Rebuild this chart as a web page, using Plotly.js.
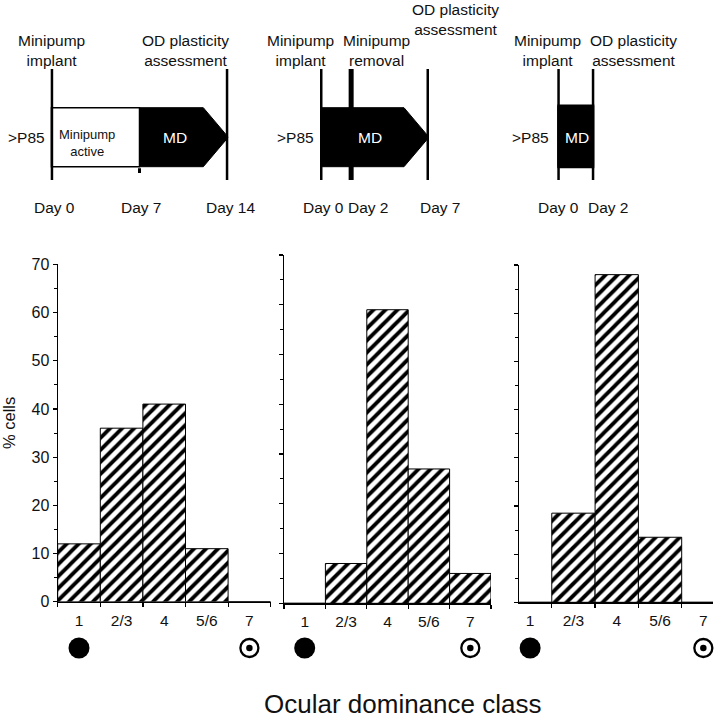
<!DOCTYPE html>
<html>
<head>
<meta charset="utf-8">
<script src="https://cdn.plot.ly/plotly-3.0.1.min.js"></script>
<style>html,body{margin:0;padding:0;background:#fff;}#chart{width:714px;height:720px;}</style>
</head>
<body>
<div id="chart"></div>
<script>
// ---------------- DATA ----------------
const categories = ['1', '2/3', '4', '5/6', '7'];
const binIndex = [1, 2, 3, 4, 5];
const cellsPanelA = [12, 36, 41, 11, 0];     // 14-day minipump then MD
const cellsPanelB = [0, 8, 59, 27, 6];       // minipump removed day 2, MD to day 7
const cellsPanelC = [0, 18.5, 68, 13.5, 0];  // 2-day minipump + MD
const yTickVals = [0, 10, 20, 30, 40, 50, 60, 70];
const eyeBins = [1, 5];                       // contralateral (1) / ipsilateral (7)

const timelineA = [0, 7, 14];
const timelineB = [0, 2, 7];
const timelineC = [0, 2];
const dayLabelsA = ['Day 0', 'Day 7', 'Day 14'];
const dayLabelsB = ['Day 0', 'Day 2', 'Day 7'];
const dayLabelsC = ['Day 0', 'Day 2'];

// ---------------- STYLE ----------------
const FONT = 'Liberation Sans, Arial, Helvetica, sans-serif';
const INK = '#111';
const W = 714, H = 720;
const px = v => v / W;
const py = v => 1 - v / H;

const hatch = {shape: '/', fgcolor: '#000', bgcolor: '#fff', size: 8.5, solidity: 0.45};

function barTrace(y, xa, ya) {
  return {type: 'bar', x: binIndex, y: y, xaxis: xa, yaxis: ya, width: 1,
    marker: {color: '#fff', pattern: hatch, line: {color: '#000', width: 1}},
    hoverinfo: 'skip', showlegend: false};
}
function eyeTraces(xa) {
  return [
    {type: 'scatter', mode: 'markers', x: [eyeBins[0]], y: [0], xaxis: xa, yaxis: 'y4', cliponaxis: false,
      marker: {symbol: 'circle', size: 21, color: '#000'}, hoverinfo: 'skip', showlegend: false},
    {type: 'scatter', mode: 'markers', x: [eyeBins[1]], y: [0], xaxis: xa, yaxis: 'y4', cliponaxis: false,
      marker: {symbol: 'circle-open', size: 18, color: '#000', line: {color: '#000', width: 2.3}}, hoverinfo: 'skip', showlegend: false},
    {type: 'scatter', mode: 'markers', x: [eyeBins[1]], y: [0], xaxis: xa, yaxis: 'y4', cliponaxis: false,
      marker: {symbol: 'circle', size: 6.5, color: '#000'}, hoverinfo: 'skip', showlegend: false}
  ];
}
function ghost(days, xa) {
  return {type: 'scatter', mode: 'markers', x: days, y: days.map(() => 0.5), xaxis: xa, yaxis: 'y5',
    marker: {opacity: 0}, hoverinfo: 'skip', showlegend: false};
}

const data = [
  barTrace(cellsPanelA, 'x', 'y'),
  barTrace(cellsPanelB, 'x2', 'y2'),
  barTrace(cellsPanelC, 'x3', 'y3'),
  ...eyeTraces('x'), ...eyeTraces('x2'), ...eyeTraces('x3'),
  ghost(timelineA, 'x4'), ghost(timelineB, 'x5'), ghost(timelineC, 'x6')
];

function xAxis(domain, range, anchor) {
  return {domain: domain, range: range, anchor: anchor, showline: true, linecolor: '#000', linewidth: 1.2,
    tickmode: 'array', tickvals: binIndex, ticktext: categories, ticks: '',
    tickfont: {family: FONT, size: 15.5, color: INK}, ticklabelstandoff: 4,
    minor: {tick0: 0.5, dtick: 1, ticks: 'outside', ticklen: 4, tickcolor: '#000', tickwidth: 1.2},
    showgrid: false, zeroline: false, fixedrange: true};
}
function yAxis(domain, anchor, labels) {
  return {domain: domain, range: [0, 70], anchor: anchor, showline: true, linecolor: '#000', linewidth: 1.2,
    tickmode: 'array', tickvals: yTickVals, ticks: 'outside', ticklen: 4, tickcolor: '#000', tickwidth: 1.2,
    showticklabels: labels, tickfont: {family: FONT, size: 16, color: INK}, ticklabelstandoff: 0,
    minor: {tick0: 0, dtick: 5, ticks: 'outside', ticklen: 3, tickcolor: '#000', tickwidth: 1},
    showgrid: false, zeroline: false, fixedrange: true};
}
function hidden(domain, range, anchor) {
  return {domain: domain, range: range, anchor: anchor, visible: false, fixedrange: true};
}

// schematic vertical geometry (px from top)
const LINE_TOP = py(69), LINE_BOT = py(180);
const BOX_TOP = py(107.7), BOX_BOT = py(166.7), BOX_MID = py(137.2);
const HEAD_PX = 25;

const domA = [px(50.7), px(228.3)], domB = [px(320), px(429)], domC = [px(557.3), px(594.3)];
const ppdA = (228.3 - 50.7) / 14, ppdB = (429 - 320) / 7, ppdC = (594.3 - 557.3) / 2;

const shapes = [];
function vline(xref, d, w, y0, y1) {
  shapes.push({type: 'line', xref: xref, yref: 'paper', x0: d, x1: d, y0: y0 === undefined ? LINE_BOT : y0,
    y1: y1 === undefined ? LINE_TOP : y1, line: {color: '#000', width: w}});
}
function arrowPath(x0, tip, headDays) {
  const s = tip - headDays;
  return `M ${x0},${BOX_TOP} L ${s},${BOX_TOP} L ${tip},${BOX_MID} L ${s},${BOX_BOT} L ${x0},${BOX_BOT} Z`;
}
// Panel A schematic
shapes.push({type: 'rect', xref: 'x4', yref: 'paper', x0: timelineA[0], x1: timelineA[1], y0: BOX_BOT, y1: BOX_TOP,
  fillcolor: '#fff', line: {color: '#000', width: 1.5}});
shapes.push({type: 'path', xref: 'x4', yref: 'paper', path: arrowPath(timelineA[1], timelineA[2], HEAD_PX / ppdA),
  fillcolor: '#000', line: {color: '#000', width: 1}});
vline('x4', timelineA[0], 5);
vline('x4', timelineA[1], 3, BOX_BOT - 0.002, py(173));
vline('x4', timelineA[2], 5);
// Panel B schematic
shapes.push({type: 'path', xref: 'x5', yref: 'paper', path: arrowPath(timelineB[0], timelineB[2], HEAD_PX / ppdB),
  fillcolor: '#000', line: {color: '#000', width: 1}});
timelineB.forEach(d => vline('x5', d, 5));
// Panel C schematic
shapes.push({type: 'rect', xref: 'x6', yref: 'paper', x0: timelineC[0], x1: timelineC[1], y0: BOX_BOT, y1: py(106),
  fillcolor: '#000', line: {color: '#000', width: 3}});
timelineC.forEach(d => vline('x6', d, 5));

const ann = [];
function txt(text, xref, x, y, opts) {
  ann.push(Object.assign({text: text, xref: xref, yref: 'paper', x: x, y: y, showarrow: false,
    xanchor: 'center', yanchor: 'middle', align: 'center',
    font: {family: FONT, size: 15.5, color: INK}}, opts || {}));
}
const HEAD_Y = py(50.8), DAY_Y = py(208), P85_Y = py(137);
// A
txt('Minipump<br>implant', 'x4', timelineA[0], HEAD_Y, {xshift: 1});
txt('OD plasticity<br>assessment', 'x4', timelineA[2], HEAD_Y, {xanchor: 'right', xshift: 3});
txt('>P85', 'x4', timelineA[0], P85_Y, {xanchor: 'right', xshift: -4});
txt('Minipump<br>active', 'x4', (timelineA[0] + timelineA[1]) / 2, py(142.8), {xshift: -8, font: {family: FONT, size: 13, color: INK}});
txt('MD', 'x4', (timelineA[1] + timelineA[2]) / 2, P85_Y, {xshift: -9, font: {family: FONT, size: 15.5, color: '#fff'}});
dayLabelsA.forEach((t, i) => txt(t, 'x4', timelineA[i], DAY_Y, {xshift: [4, 2, 2][i]}));
// B
txt('Minipump<br>implant', 'x5', timelineB[0], HEAD_Y, {xshift: -20});
txt('Minipump<br>removal', 'x5', timelineB[1], HEAD_Y, {xshift: 25});
txt('OD plasticity<br>assessment', 'x5', timelineB[2], 1, {xshift: 26, yanchor: 'top', borderpad: 0});
txt('>P85', 'x5', timelineB[0], P85_Y, {xanchor: 'right', xshift: -4});
txt('MD', 'x5', 3.2, P85_Y, {font: {family: FONT, size: 15.5, color: '#fff'}});
dayLabelsB.forEach((t, i) => txt(t, 'x5', timelineB[i], DAY_Y, {xshift: [3, 17, 11][i]}));
// C
txt('Minipump<br>implant', 'x6', timelineC[0], HEAD_Y, {xshift: -10});
txt('OD plasticity<br>assessment', 'x6', timelineC[1], HEAD_Y, {xshift: 39});
txt('>P85', 'x6', timelineC[0], P85_Y, {xanchor: 'right', xshift: -6});
txt('MD', 'x6', (timelineC[0] + timelineC[1]) / 2, P85_Y, {xshift: 1, font: {family: FONT, size: 15.5, color: '#fff'}});
dayLabelsC.forEach((t, i) => txt(t, 'x6', timelineC[i], DAY_Y, {xshift: [1, 14][i]}));
// axis titles
ann.push({text: '% cells', xref: 'paper', yref: 'paper', x: px(9), y: py(423), textangle: -90, showarrow: false,
  xanchor: 'center', yanchor: 'middle', font: {family: FONT, size: 16.5, color: INK}});
ann.push({text: 'Ocular dominance class', xref: 'paper', yref: 'paper', x: px(402.5), y: 0, showarrow: false,
  xanchor: 'center', yanchor: 'bottom', borderpad: 0, font: {family: FONT, size: 26, color: INK}});

const layout = {
  width: W, height: H, margin: {l: 0, r: 0, t: 0, b: 0},
  paper_bgcolor: '#fff', plot_bgcolor: 'rgba(0,0,0,0)',
  bargap: 0, showlegend: false,
  xaxis: xAxis([px(57.7), px(270.7)], [0.5, 5.5], 'y'),
  yaxis: yAxis([1 - 601.7 / H, 1 - 264.3 / H], 'x', true),
  xaxis2: xAxis([px(284), px(491)], [0.5, 5.5], 'y2'),
  yaxis2: yAxis([1 - 603.3 / H, 1 - 255 / H], 'x2', false),
  xaxis3: xAxis([px(519.3), px(713)], [0.75, 5.223], 'y3'),
  yaxis3: yAxis([1 - 602.3 / H, 1 - 265 / H], 'x3', false),
  yaxis4: hidden([0.08, 0.12], [-1, 1], 'x'),
  xaxis4: hidden(domA, [0, 14], 'y5'),
  xaxis5: hidden(domB, [0, 7], 'y5'),
  xaxis6: hidden(domC, [0, 2], 'y5'),
  yaxis5: hidden([0.70, 1.0], [0, 1], 'x4'),
  shapes: shapes,
  annotations: ann
};

Plotly.newPlot('chart', data, layout, {staticPlot: true, displayModeBar: false});
</script>
</body>
</html>
